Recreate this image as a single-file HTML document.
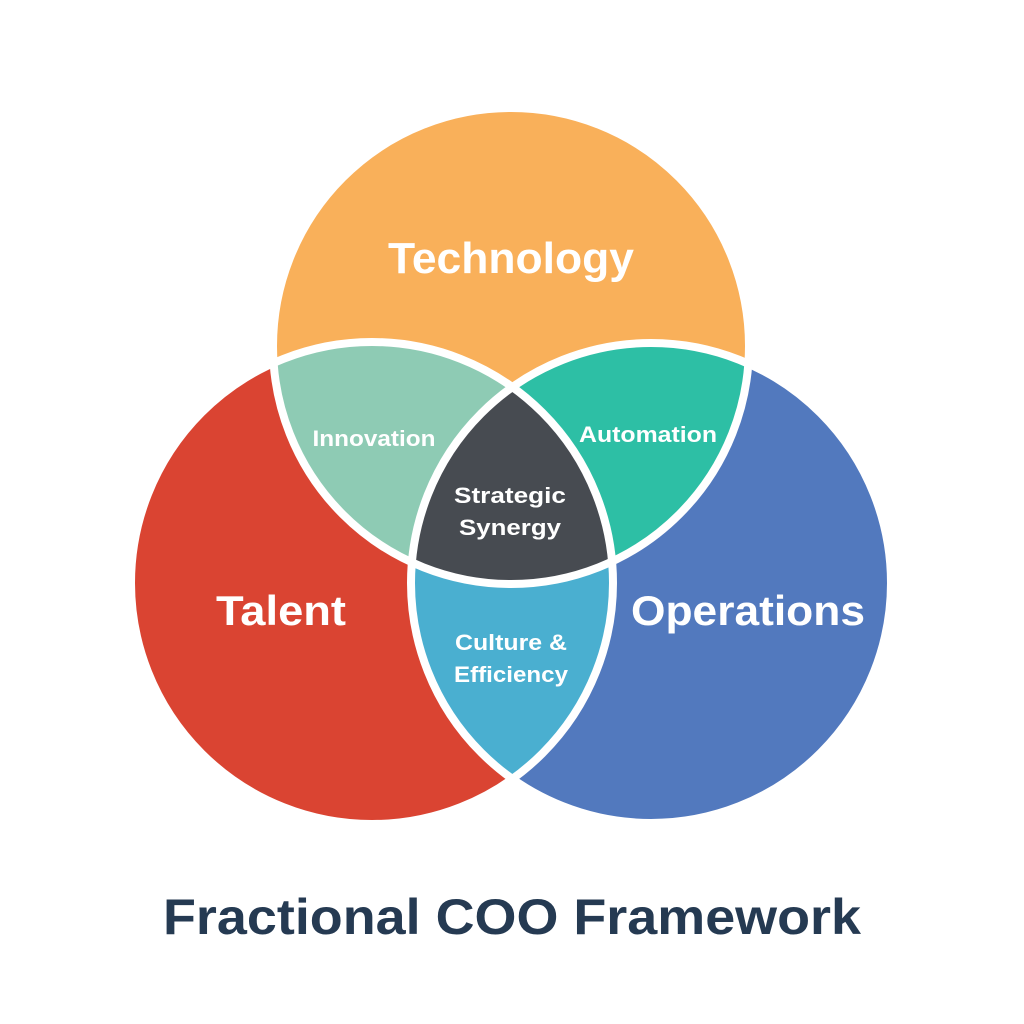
<!DOCTYPE html>
<html><head><meta charset="utf-8"><style>
html,body{margin:0;padding:0;background:#fff;width:1024px;height:1024px;overflow:hidden}
svg{display:block}
text{font-family:"Liberation Sans","DejaVu Sans",sans-serif;font-weight:bold;fill:#fff;text-anchor:middle}
</style></head><body>
<svg width="1024" height="1024" viewBox="0 0 1024 1024" xmlns="http://www.w3.org/2000/svg">
<defs>
<clipPath id="cT"><circle cx="511" cy="346" r="238"/></clipPath>
<clipPath id="cL"><circle cx="372" cy="583" r="241"/></clipPath>
<clipPath id="cR"><circle cx="651" cy="583" r="240"/></clipPath>
</defs>
<circle cx="511" cy="346" r="238" fill="#F9B05A"/>
<circle cx="372" cy="583" r="241" fill="#DA4432"/>
<circle cx="651" cy="583" r="240" fill="#5279BE"/>
<g clip-path="url(#cT)"><circle cx="372" cy="583" r="241" fill="#8ECBB4"/></g>
<g clip-path="url(#cT)"><circle cx="651" cy="583" r="240" fill="#2DBFA5"/></g>
<g clip-path="url(#cL)"><circle cx="651" cy="583" r="240" fill="#4AAFD0"/></g>
<g clip-path="url(#cT)"><g clip-path="url(#cL)"><circle cx="651" cy="583" r="240" fill="#474B51"/></g></g>
<g fill="none" stroke="#fff" stroke-width="8">
<circle cx="511" cy="346" r="238"/>
<circle cx="372" cy="583" r="241"/>
<circle cx="651" cy="583" r="240"/>
</g>
<text x="511" y="273" font-size="44" textLength="246" lengthAdjust="spacingAndGlyphs">Technology</text>
<text x="281" y="625" font-size="42" textLength="130" lengthAdjust="spacingAndGlyphs">Talent</text>
<text x="748" y="625" font-size="42" textLength="234" lengthAdjust="spacingAndGlyphs">Operations</text>
<text x="374" y="446" font-size="22" textLength="123" lengthAdjust="spacingAndGlyphs">Innovation</text>
<text x="648" y="442" font-size="22" textLength="138" lengthAdjust="spacingAndGlyphs">Automation</text>
<text x="510" y="503" font-size="22" textLength="112" lengthAdjust="spacingAndGlyphs">Strategic</text>
<text x="510" y="535" font-size="22" textLength="102" lengthAdjust="spacingAndGlyphs">Synergy</text>
<text x="511" y="650" font-size="22" textLength="112" lengthAdjust="spacingAndGlyphs">Culture &amp;</text>
<text x="511" y="682" font-size="22" textLength="114" lengthAdjust="spacingAndGlyphs">Efficiency</text>
<text x="512" y="934" font-size="50" textLength="698" lengthAdjust="spacingAndGlyphs" style="fill:#253A52">Fractional COO Framework</text>
</svg>
</body></html>
